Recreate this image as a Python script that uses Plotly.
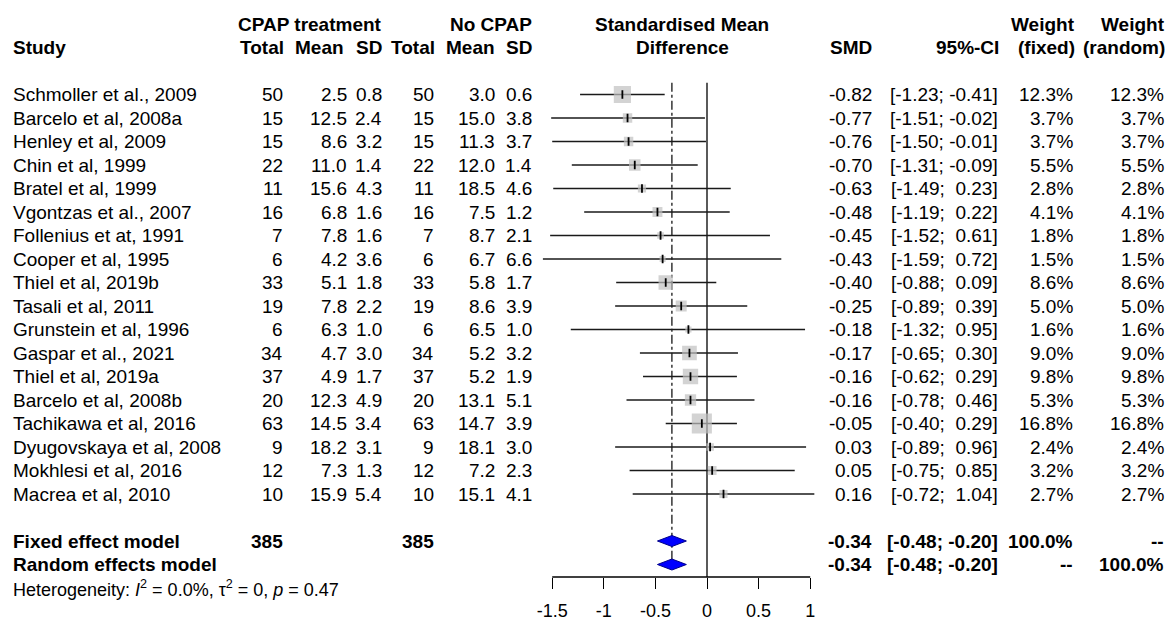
import math
import plotly.graph_objects as go

# ---------------- data ----------------
studies = [
    "Schmoller et al., 2009", "Barcelo et al, 2008a", "Henley et al, 2009",
    "Chin et al, 1999", "Bratel et al, 1999", "Vgontzas et al., 2007",
    "Follenius et at, 1991", "Cooper et al, 1995", "Thiel et al, 2019b",
    "Tasali et al, 2011", "Grunstein et al, 1996", "Gaspar et al., 2021",
    "Thiel et al, 2019a", "Barcelo et al, 2008b", "Tachikawa et al, 2016",
    "Dyugovskaya et al, 2008", "Mokhlesi et al, 2016", "Macrea et al, 2010",
]
cpap_n = [50, 15, 15, 22, 11, 16, 7, 6, 33, 19, 6, 34, 37, 20, 63, 9, 12, 10]
cpap_mean = [2.5, 12.5, 8.6, 11.0, 15.6, 6.8, 7.8, 4.2, 5.1, 7.8, 6.3, 4.7, 4.9, 12.3, 14.5, 18.2, 7.3, 15.9]
cpap_sd = [0.8, 2.4, 3.2, 1.4, 4.3, 1.6, 1.6, 3.6, 1.8, 2.2, 1.0, 3.0, 1.7, 4.9, 3.4, 3.1, 1.3, 5.4]
ctrl_n = [50, 15, 15, 22, 11, 16, 7, 6, 33, 19, 6, 34, 37, 20, 63, 9, 12, 10]
ctrl_mean = [3.0, 15.0, 11.3, 12.0, 18.5, 7.5, 8.7, 6.7, 5.8, 8.6, 6.5, 5.2, 5.2, 13.1, 14.7, 18.1, 7.2, 15.1]
ctrl_sd = [0.6, 3.8, 3.7, 1.4, 4.6, 1.2, 2.1, 6.6, 1.7, 3.9, 1.0, 3.2, 1.9, 5.1, 3.9, 3.0, 2.3, 4.1]
smd = [-0.82, -0.77, -0.76, -0.70, -0.63, -0.48, -0.45, -0.43, -0.40, -0.25, -0.18, -0.17, -0.16, -0.16, -0.05, 0.03, 0.05, 0.16]
ci_low = [-1.23, -1.51, -1.50, -1.31, -1.49, -1.19, -1.52, -1.59, -0.88, -0.89, -1.32, -0.65, -0.62, -0.78, -0.40, -0.89, -0.75, -0.72]
ci_high = [-0.41, -0.02, -0.01, -0.09, 0.23, 0.22, 0.61, 0.72, 0.09, 0.39, 0.95, 0.30, 0.29, 0.46, 0.29, 0.96, 0.85, 1.04]
w_fixed = [12.3, 3.7, 3.7, 5.5, 2.8, 4.1, 1.8, 1.5, 8.6, 5.0, 1.6, 9.0, 9.8, 5.3, 16.8, 2.4, 3.2, 2.7]
w_random = [12.3, 3.7, 3.7, 5.5, 2.8, 4.1, 1.8, 1.5, 8.6, 5.0, 1.6, 9.0, 9.8, 5.3, 16.8, 2.4, 3.2, 2.7]

total_cpap = 385
total_ctrl = 385
pooled_smd = -0.34
pooled_low = -0.48
pooled_high = -0.20
pooled_weight_fixed = "100.0%"
pooled_weight_random = "100.0%"
heterogeneity_text = "Heterogeneity: <i>I</i><sup>2</sup> = 0.0%, τ<sup>2</sup> = 0, <i>p</i> = 0.47"

tick_vals = [-1.5, -1, -0.5, 0, 0.5, 1]
tick_text = ["-1.5", "-1", "-0.5", "0", "0.5", "1"]

# ---------------- layout constants ----------------
W, H = 1173, 621
FONT = "Liberation Sans, Arial, sans-serif"
FS = 19
ROW0_PX, ROW_STEP = 24.0, 23.5          # pixel centre of row 0 and row spacing
X0_PX, UNIT_PX = 707.0, 103.2           # pixel of SMD 0 and pixels per SMD unit
XR = [-1.75, 1.2]
AXIS_PX = 577.0

first_row = 3
study_rows = [first_row + i for i in range(len(studies))]
fixed_row = first_row + len(studies) + 1
random_row = fixed_row + 1
het_row = random_row + 1

y_top = (0 - ROW0_PX) / ROW_STEP
y_bot = (H - ROW0_PX) / ROW_STEP

fig = go.Figure()

# CI lines
lx, ly = [], []
for r, lo, hi in zip(study_rows, ci_low, ci_high):
    lx += [lo, hi, None]
    ly += [r, r, None]
fig.add_trace(go.Scatter(x=lx, y=ly, mode="lines", line=dict(color="#1a1a1a", width=1.3),
                         hoverinfo="skip", showlegend=False))

# weight squares
fig.add_trace(go.Scatter(x=smd, y=study_rows, mode="markers",
                         marker=dict(symbol="square", color="#c0c0c0",
                                     size=[4.9 * math.sqrt(w) for w in w_fixed], line=dict(width=0)),
                         showlegend=False, hoverinfo="skip"))
# point estimate ticks
fig.add_trace(go.Scatter(x=smd, y=study_rows, mode="markers",
                         marker=dict(symbol="line-ns-open", color="black", size=6,
                                     line=dict(width=1.8, color="black")),
                         showlegend=False, hoverinfo="skip"))

# diamonds
hh = 5.5 / ROW_STEP
for r in (fixed_row, random_row):
    fig.add_trace(go.Scatter(
        x=[pooled_low, pooled_smd, pooled_high, pooled_smd, pooled_low],
        y=[r, r - hh, r, r + hh, r], mode="lines", fill="toself",
        fillcolor="#0000ff", line=dict(color="#00008b", width=1),
        showlegend=False, hoverinfo="skip"))

shapes = [
    dict(type="line", xref="x", yref="y", x0=0, x1=0, y0=first_row - 0.5,
         y1=(AXIS_PX - ROW0_PX) / ROW_STEP, line=dict(color="black", width=1.3), layer="below"),
    dict(type="line", xref="x", yref="y", x0=pooled_smd, x1=pooled_smd, y0=first_row - 0.5,
         y1=random_row, line=dict(color="black", width=1.2, dash="dashdot"), layer="below"),
    dict(type="line", xref="x", yref="paper", x0=tick_vals[0], x1=tick_vals[-1],
         y0=1 - AXIS_PX / H, y1=1 - AXIS_PX / H, line=dict(color="black", width=1.3)),
]

ann = []


def txt(xpx, row, s, anchor="right", bold=False, size=FS):
    ann.append(dict(x=xpx / W, xref="paper", y=row, yref="y",
                    text=f"<b>{s}</b>" if bold else s, xanchor=anchor, yanchor="middle",
                    showarrow=False, borderpad=0, borderwidth=0,
                    font=dict(size=size, color="black", family=FONT)))


# columns (right edges in px)
C_STUDY = 13
C_EN, C_EM, C_ES = 283, 347, 382
C_CN, C_CM, C_CS = 434, 495, 532
C_SMD, C_CI, C_WF, C_WR = 872, 998, 1073, 1164
C_MID = 682

# headers
txt(C_ES, 0, "CPAP treatment", bold=True)
txt(C_CS, 0, "No CPAP", bold=True)
txt(C_MID, 0, "Standardised Mean", anchor="center", bold=True)
txt(C_WF + 2, 0, "Weight", bold=True)
txt(C_WR + 1, 0, "Weight", bold=True)
txt(C_STUDY, 1, "Study", anchor="left", bold=True)
txt(C_EN + 1, 1, "Total", bold=True)
txt(C_EM - 3, 1, "Mean", bold=True)
txt(C_ES, 1, "SD", bold=True)
txt(C_CN + 1, 1, "Total", bold=True)
txt(C_CM, 1, "Mean", bold=True)
txt(C_CS, 1, "SD", bold=True)
txt(C_MID, 1, "Difference", anchor="center", bold=True)
txt(C_SMD, 1, "SMD", bold=True)
txt(C_CI + 1, 1, "95%-CI", bold=True)
txt(C_WF + 2, 1, "(fixed)", bold=True)
txt(C_WR + 1, 1, "(random)", bold=True)

NB = "\u00a0"
for i, r in enumerate(study_rows):
    txt(C_STUDY, r, studies[i], anchor="left")
    txt(C_EN, r, str(cpap_n[i]))
    txt(C_EM, r, f"{cpap_mean[i]:.1f}")
    txt(C_ES, r, f"{cpap_sd[i]:.1f}")
    txt(C_CN, r, str(ctrl_n[i]))
    txt(C_CM, r, f"{ctrl_mean[i]:.1f}")
    txt(C_CS, r, f"{ctrl_sd[i]:.1f}")
    txt(C_SMD, r, f"{smd[i]:.2f}")
    hi_s = f"{ci_high[i]:.2f}"
    if ci_high[i] >= 0:
        hi_s = NB + hi_s
    txt(C_CI, r, f"[{ci_low[i]:.2f};{NB}{hi_s}]")
    txt(C_WF, r, f"{w_fixed[i]:.1f}%")
    txt(C_WR, r, f"{w_random[i]:.1f}%")

pooled_ci = f"[{pooled_low:.2f};{NB}{pooled_high:.2f}]"
txt(C_STUDY, fixed_row, "Fixed effect model", anchor="left", bold=True)
txt(C_EN, fixed_row, str(total_cpap), bold=True)
txt(C_CN, fixed_row, str(total_ctrl), bold=True)
txt(C_SMD, fixed_row, f"{pooled_smd:.2f}", bold=True)
txt(C_CI, fixed_row, pooled_ci, bold=True)
txt(C_WF, fixed_row, pooled_weight_fixed, bold=True)
txt(C_WR, fixed_row, "--", bold=True)

txt(C_STUDY, random_row, "Random effects model", anchor="left", bold=True)
txt(C_SMD, random_row, f"{pooled_smd:.2f}", bold=True)
txt(C_CI, random_row, pooled_ci, bold=True)
txt(C_WF, random_row, "--", bold=True)
txt(C_WR, random_row, pooled_weight_random, bold=True)

txt(C_STUDY, het_row, heterogeneity_text, anchor="left", size=18)

dom0 = (X0_PX + UNIT_PX * XR[0]) / W
dom1 = (X0_PX + UNIT_PX * XR[1]) / W

fig.update_layout(
    width=W, height=H, margin=dict(l=0, r=0, t=0, b=0),
    paper_bgcolor="white", plot_bgcolor="white",
    font=dict(family=FONT, size=FS, color="black"),
    showlegend=False, shapes=shapes, annotations=ann,
    xaxis=dict(range=XR, domain=[dom0, dom1], anchor="free", position=1 - AXIS_PX / H,
               tickmode="array", tickvals=tick_vals, ticktext=tick_text,
               ticks="outside", ticklen=11, tickwidth=1.3, tickcolor="black",
               showline=False, showgrid=False, zeroline=False,
               tickfont=dict(size=18, family=FONT, color="black"),
               ticklabelstandoff=6, fixedrange=True),
    yaxis=dict(range=[y_bot, y_top], domain=[0, 1], visible=False, fixedrange=True),
)

fig.write_html("out.html", config={"displayModeBar": False},
               post_script="document.body.style.margin='0';document.body.style.overflow='hidden';")
